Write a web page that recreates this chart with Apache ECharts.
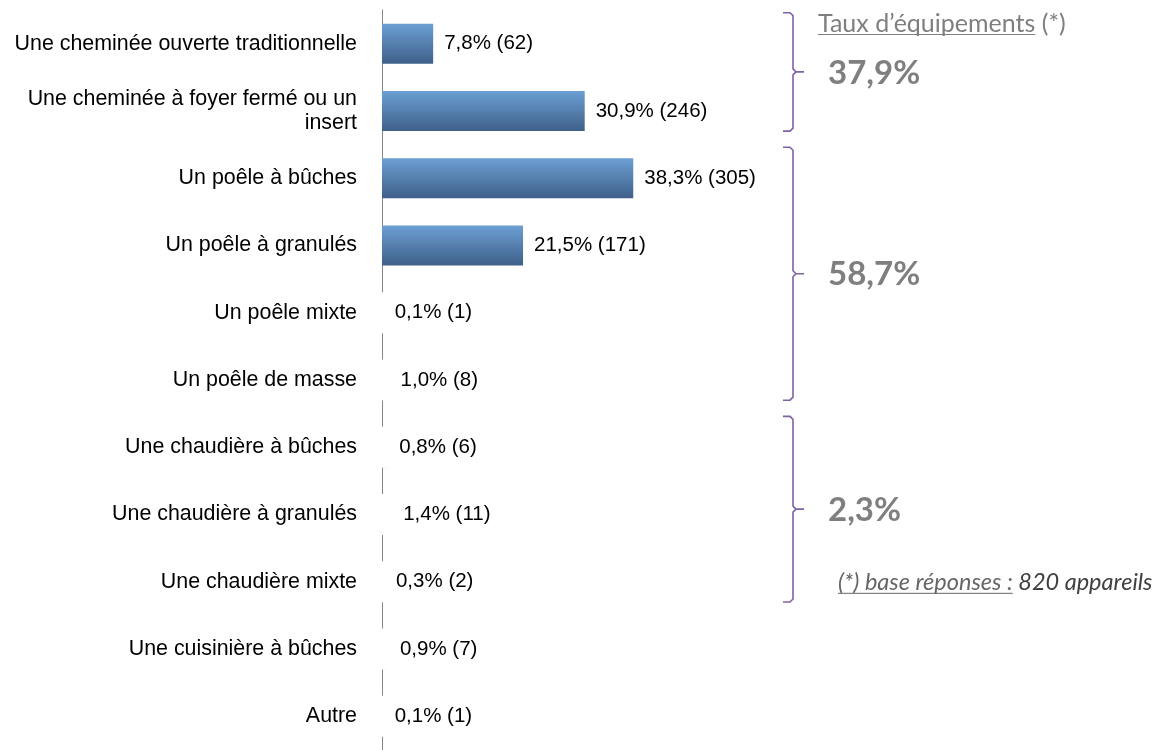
<!DOCTYPE html>
<html>
<head>
<meta charset="utf-8">
<script src="https://cdn.jsdelivr.net/npm/echarts@6/dist/echarts.min.js"></script>
<style>
  html, body { margin: 0; padding: 0; background: #fff; }
  #chart { width: 1156px; height: 750px; }
</style>
</head>
<body>
<div id="chart"></div>
<script>
const categories = [
  'Une cheminée ouverte traditionnelle',
  'Une cheminée à foyer fermé ou un\ninsert',
  'Un poêle à bûches',
  'Un poêle à granulés',
  'Un poêle mixte',
  'Un poêle de masse',
  'Une chaudière à bûches',
  'Une chaudière à granulés',
  'Une chaudière mixte',
  'Une cuisinière à bûches',
  'Autre'
]
const shares = [7.8, 30.9, 38.3, 21.5, 0.1, 1.0, 0.8, 1.4, 0.3, 0.9, 0.1]
const counts = [62, 246, 305, 171, 1, 8, 6, 11, 2, 7, 1]

// brackets on the right: first / last category of each group, and its rate
const groupFirst = [0, 2, 6]
const groupLast = [1, 5, 8]
const groupRates = ['37,9%', '58,7%', '2,3%']

const GREY = '#7f7f7f'
const PURPLE = '#7F62A6'

const fmt = v => v.toFixed(1).replace('.', ',')

const chart = echarts.init(document.getElementById('chart'), null, { renderer: 'canvas' })

const barData = shares.map((v, i) => {
  const small = v < 5
  return {
    value: v,
    label: small
      ? { distance: 0, offset: [-10, 0], backgroundColor: '#fff', padding: [10, 4, 10, 22] }
      : { distance: 11 }
  }
})

chart.setOption({
  animation: false,
  grid: { left: 382, top: 10, width: 393.6, height: 745 },
  xAxis: {
    type: 'value', min: 0, max: 60,
    show: false
  },
  yAxis: {
    type: 'category',
    inverse: true,
    data: categories,
    axisLine: { show: true, lineStyle: { color: '#868686', width: 1 } },
    axisTick: { show: false },
    axisLabel: {
      color: '#000', fontFamily: 'Liberation Sans, Arial, sans-serif',
      fontSize: 21.4, lineHeight: 24, margin: 25, align: 'right'
    }
  },
  series: [{
    type: 'bar',
    data: barData,
    barWidth: 40,
    itemStyle: {
      color: new echarts.graphic.LinearGradient(0, 0, 0, 1, [
        { offset: 0, color: '#6C9FD4' },
        { offset: 1, color: '#3F6089' }
      ])
    },
    label: {
      show: true,
      position: 'right',
      color: '#000',
      fontFamily: 'Liberation Sans, Arial, sans-serif',
      fontSize: 20.5,
      formatter: p => fmt(p.value) + '% (' + counts[p.dataIndex] + ')'
    }
  }]
})

// annotations tied to the category axis
const measure = document.createElement('canvas').getContext('2d')
const textWidth = (txt, font) => { measure.font = font; return measure.measureText(txt).width }

const yOf = i => chart.convertToPixel({ yAxisIndex: 0 }, categories[i])
const band = yOf(1) - yOf(0)

const elements = []
const bx = 793
const rateFont = 'bold 33px Lato, sans-serif'
groupFirst.forEach((first, g) => {
  const top = yOf(first) - band * 0.46
  const bot = yOf(groupLast[g]) + band * 0.3
  const mid = (top + bot) / 2
  elements.push({
    type: 'polyline',
    shape: { points: [[783, top], [bx - 3, top], [bx, top + 3], [bx, mid - 3], [bx + 3, mid], [bx + 11, mid], [bx + 3, mid], [bx, mid + 3], [bx, bot - 3], [bx - 3, bot], [783, bot]] },
    style: { stroke: PURPLE, lineWidth: 1.6, fill: null }
  })
  elements.push({
    type: 'text',
    x: 828, y: mid + 1,
    style: { text: groupRates[g], font: rateFont, fill: GREY, verticalAlign: 'middle', align: 'left' }
  })
})

// heading above the first bracket
const headFont = '25px Lato, sans-serif'
const headTxt = 'Taux d\u2019équipements'
const headY = 24
const headW = textWidth(headTxt, headFont)
elements.push({
  type: 'text', x: 818, y: headY,
  style: { text: headTxt, font: headFont, fill: GREY, verticalAlign: 'middle' }
})
elements.push({
  type: 'line', shape: { x1: 818, y1: headY + 10.5, x2: 818 + headW, y2: headY + 10.5 },
  style: { stroke: GREY, lineWidth: 1 }
})
elements.push({
  type: 'text', x: 818 + headW + textWidth(' ', headFont), y: headY,
  style: { text: '(*)', font: headFont, fill: GREY, verticalAlign: 'middle' }
})

// footnote inside the last bracket
const noteFont = 'italic 23.5px Lato, sans-serif'
const noteA = '(*) base réponses :'
const noteB = ' 820 appareils'
const noteY = yOf(groupLast[2]) + 1
const noteW = textWidth(noteA, noteFont)
elements.push({
  type: 'text', x: 838, y: noteY,
  style: { text: noteA, font: noteFont, fill: '#666', verticalAlign: 'middle' }
})
elements.push({
  type: 'line', shape: { x1: 838, y1: noteY + 10.5, x2: 838 + noteW, y2: noteY + 10.5 },
  style: { stroke: '#666', lineWidth: 1 }
})
elements.push({
  type: 'text', x: 838 + noteW, y: noteY,
  style: { text: noteB, font: noteFont, fill: '#404040', verticalAlign: 'middle' }
})

chart.setOption({ graphic: { elements } })
</script>
</body>
</html>
